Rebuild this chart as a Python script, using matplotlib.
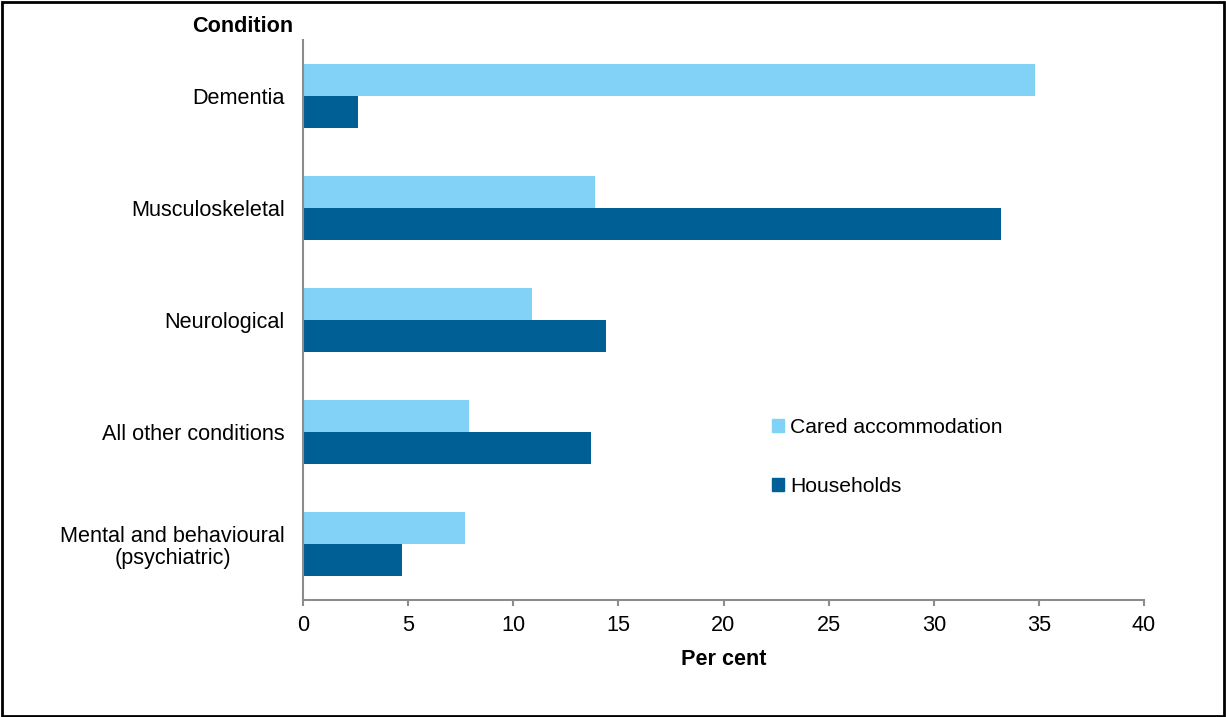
import numpy as np
import matplotlib
matplotlib.use("Agg")
from matplotlib import pyplot as plt
from matplotlib.patches import Rectangle, Patch

# data
conditions = ["Dementia", "Musculoskeletal", "Neurological", "All other conditions",
              "Mental and behavioural\n(psychiatric)"]
cared = [34.8, 13.9, 10.9, 7.9, 7.7]
households = [2.6, 33.2, 14.4, 13.7, 4.7]

light = "#81D2F6"
dark = "#005F94"
grey = "#8C8C8C"

plt.rcParams["font.family"] = ["Liberation Sans", "DejaVu Sans"]
plt.rcParams["font.size"] = 15.6

fig = plt.figure(figsize=(12.26, 7.17), dpi=100)
ax = fig.add_axes([303/1226, 1-600/717, (1144-303)/1226, 560/717])

y = np.arange(len(conditions))
h = 0.287
ax.barh(y - h/2, cared, height=h, color=light, label="Cared accommodation")
ax.barh(y + h/2, households, height=h, color=dark, label="Households")

ax.set_ylim(len(conditions) - 0.5, -0.5)
ax.set_xlim(0, 40)
ax.set_xticks(range(0, 41, 5))
ax.set_yticks(y)
ax.set_yticklabels(conditions, multialignment="center", linespacing=1.1)
ax.tick_params(axis="y", length=0, pad=13)
ax.tick_params(axis="x", length=4, color=grey, width=1.5, pad=7)

for s in ["top", "right"]:
    ax.spines[s].set_visible(False)
for s in ["left", "bottom"]:
    ax.spines[s].set_color(grey)
    ax.spines[s].set_linewidth(1.5)

ax.set_xlabel("Per cent", fontweight="bold", labelpad=9)
fig.text(293/1226, 1-26/717, "Condition", fontweight="bold", ha="right", va="center")

handles = [Patch(color=light), Patch(color=dark)]
ax.legend(handles, ["Cared accommodation", "Households"], loc="upper left",
          bbox_to_anchor=((753-303)/841, (600-399)/560), frameon=False,
          handlelength=0.55, handleheight=0.55, handletextpad=0.3, labelspacing=1.9,
          fontsize=15.2)

fig.patches.append(Rectangle((0.002, 0.002), 0.996, 0.995, transform=fig.transFigure,
                             fill=False, edgecolor="black", linewidth=2))

fig.savefig("out.png", dpi=100)
